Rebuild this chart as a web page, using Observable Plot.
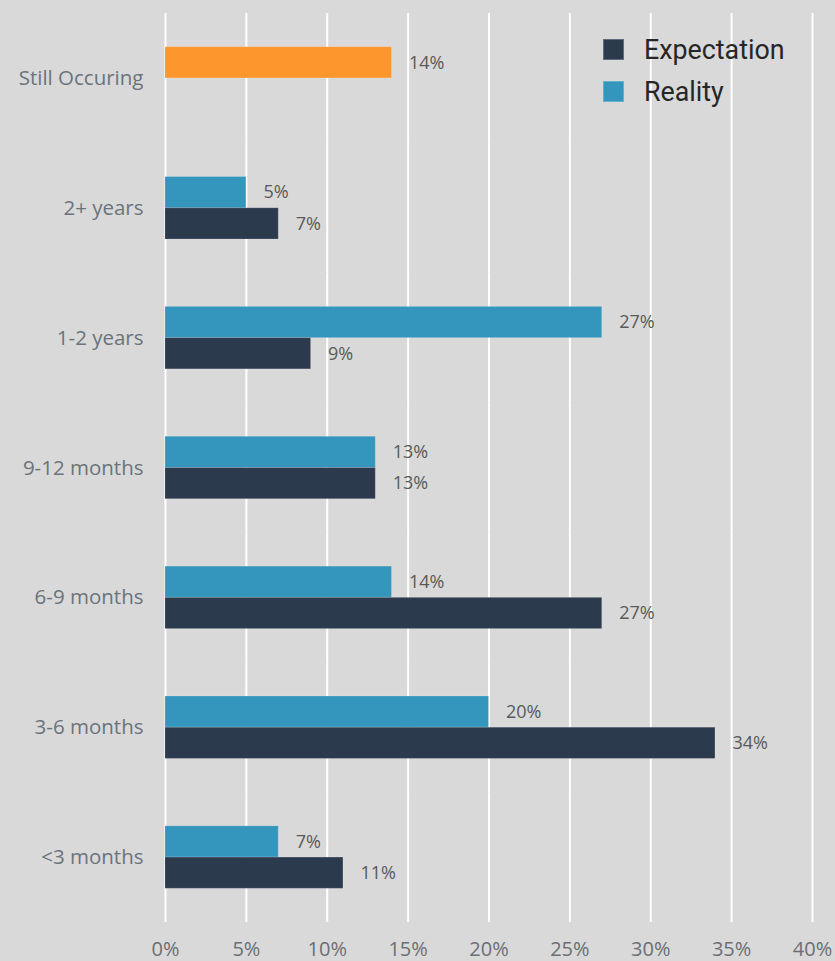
<!DOCTYPE html>
<html>
<head>
<meta charset="utf-8">
<script src="https://cdn.jsdelivr.net/npm/d3@7"></script>
<script src="https://cdn.jsdelivr.net/npm/@observablehq/plot@0.6"></script>
<style>
  html, body { margin: 0; padding: 0; background: #d9d9d9; }
  #wrap { position: relative; width: 835px; height: 961px; overflow: hidden; }
  #legend { position: absolute; left: 603px; top: 39px; font-family: Roboto, sans-serif; font-size: 26.8px; color: #262626; }
  .item { display: flex; align-items: center; height: 21px; margin-bottom: 21px; }
  .sw { width: 21px; height: 21px; margin-right: 20px; box-sizing: border-box; border: 1px solid rgba(255,255,255,0.25); }
</style>
</head>
<body>
<div id="wrap"></div>
<script>
const categories = ["Still Occuring", "2+ years", "1-2 years", "9-12 months", "6-9 months", "3-6 months", "<3 months"];
const reality = [14, 5, 27, 13, 14, 20, 7];
const expectation = [null, 7, 9, 13, 27, 34, 11];
const seriesNames = ["Expectation", "Reality"];
const tickValues = [0, 5, 10, 15, 20, 25, 30, 35, 40];
const colors = {Expectation: "#2c3a4e", Reality: "#3496bc", Still: "#fd962d"};

const rows = [];
categories.forEach((c, i) => {
  if (reality[i] != null) rows.push({category: c, series: "Reality", value: reality[i], kind: c === "Still Occuring" ? "Still" : "Reality"});
  if (expectation[i] != null) rows.push({category: c, series: "Expectation", value: expectation[i], kind: "Expectation"});
});

const chart = Plot.plot({
  width: 835,
  height: 961,
  marginLeft: 165,
  marginRight: 23,
  marginTop: 13,
  marginBottom: 39,
  style: {background: "#d9d9d9", fontFamily: "'Open Sans', sans-serif"},
  x: {domain: [0, 40], axis: null},
  fy: {domain: categories, padding: 0, round: false, axis: null},
  y: {domain: ["Reality", "Expectation"], paddingInner: 0, paddingOuter: 1.08, round: false, axis: null},
  color: {domain: ["Expectation", "Reality", "Still"], range: [colors.Expectation, colors.Reality, colors.Still]},
  marks: [
    Plot.ruleX(tickValues, {x: d => d, stroke: "white", strokeWidth: 2}),
    Plot.barX(rows, {x: "value", y: "series", fy: "category", fill: "kind", stroke: "#ffffff", strokeOpacity: 0.15, strokeWidth: 1}),
    Plot.text(rows, {x: "value", y: "series", fy: "category", text: d => d.value + "%", dx: 17, textAnchor: "start", fontSize: 18, fill: "#595959"}),
    Plot.axisX({ticks: tickValues, tickFormat: d => d + "%", tickSize: 0, tickPadding: 19, fontSize: 20, fill: "#6b6f75", label: null}),
    Plot.axisFy({anchor: "left", tickSize: 0, tickPadding: 22, fontSize: 20.5, fill: "#6b737c", label: null})
  ]
});

const wrap = document.getElementById("wrap");
wrap.appendChild(chart);
const legend = document.createElement("div");
legend.id = "legend";
seriesNames.forEach(s => {
  const it = document.createElement("div");
  it.className = "item";
  const sw = document.createElement("span");
  sw.className = "sw";
  sw.style.background = colors[s];
  const tx = document.createElement("span");
  tx.textContent = s;
  it.appendChild(sw);
  it.appendChild(tx);
  legend.appendChild(it);
});
wrap.appendChild(legend);
</script>
</body>
</html>
